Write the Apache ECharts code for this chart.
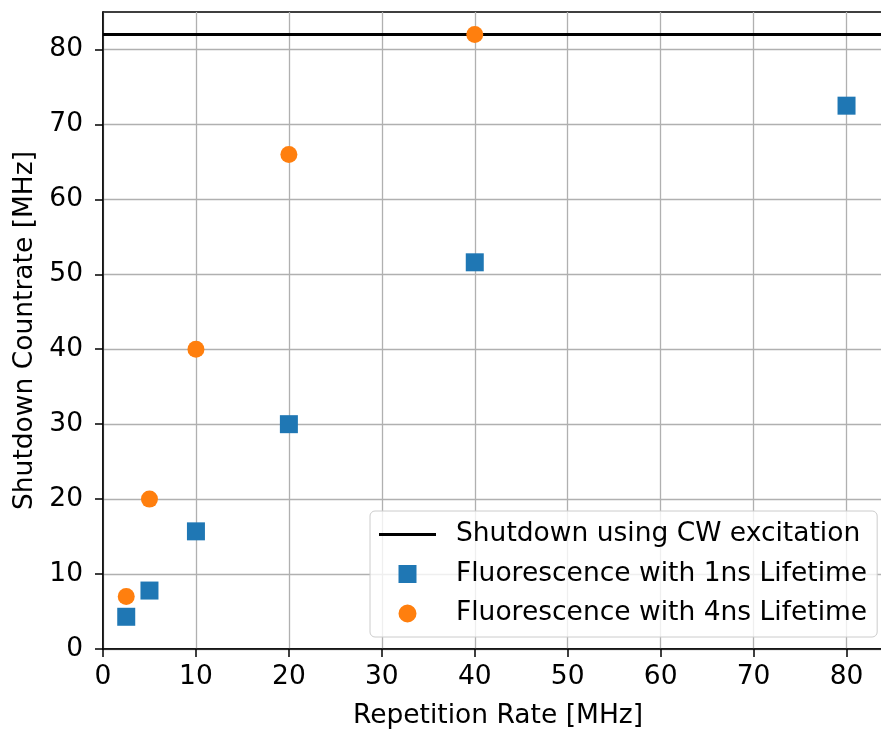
<!DOCTYPE html>
<html>
<head>
<meta charset="utf-8">
<script src="https://cdn.jsdelivr.net/npm/echarts@6/dist/echarts.min.js"></script>
<style>
  html, body { margin: 0; padding: 0; background: #fff; }
</style>
</head>
<body>
<div id="Echarts" style="width: 881px; height: 729px"></div>
<script>
// repetition rates (MHz)
var rates1ns = [2.5, 5, 10, 20, 40, 80]
var counts1ns = [4.3, 7.8, 15.7, 30.0, 51.6, 72.5]
var rates4ns = [2.5, 5, 10, 20, 40]
var counts4ns = [7.0, 20.0, 40.0, 66.0, 82.0]
var cwLevel = 82
var xTicks = [0, 10, 20, 30, 40, 50, 60, 70, 80]
var yTicks = [0, 10, 20, 30, 40, 50, 60, 70, 80]
var xMax = 85
var yMax = 85

var font = 'DejaVu Sans'
var fs = 26.5
var myChart = echarts.init(document.getElementById('Echarts'))

function pairs(xs, ys) {
  return xs.map(function (x, i) { return [x, ys[i]] })
}

var option = {
  animation: false,
  backgroundColor: '#fff',
  textStyle: { fontFamily: font },
  grid: {
    left: 103,
    top: 12,
    width: 790,
    bottom: 80,
    outerBoundsMode: 'none',
    containLabel: false,
    show: true,
    borderColor: '#000',
    borderWidth: 1.5,
    backgroundColor: 'transparent'
  },
  legend: {
    orient: 'vertical',
    left: 370,
    top: 511,
    selectedMode: false,
    itemWidth: 57,
    itemHeight: 18,
    itemGap: 12.5,
    padding: [10, 10, 10, 9],
    backgroundColor: 'rgba(255,255,255,0.8)',
    borderColor: '#cccccc',
    borderWidth: 1,
    borderRadius: 5,
    textStyle: { fontFamily: font, fontSize: fs, color: '#000', lineHeight: 24, padding: [0, 0, 0, 15] },
    data: [
      { name: 'Shutdown using CW excitation', icon: 'path://M0,0H57V3H0Z' },
      { name: 'Fluorescence with 1ns Lifetime', icon: 'path://M0,0H10V10H0Z' },
      { name: 'Fluorescence with 4ns Lifetime', icon: 'path://M5,0A5,5,0,1,1,4.99,0Z' }
    ]
  },
  xAxis: {
    type: 'value',
    min: 0,
    max: xMax,
    interval: 10,
    name: 'Repetition Rate [MHz]',
    nameLocation: 'middle',
    nameGap: 54,
    nameTextStyle: { fontFamily: font, fontSize: fs, color: '#000' },
    axisLine: { show: true, onZero: false, lineStyle: { color: '#000', width: 1.5 } },
    axisTick: { show: true, length: 8, lineStyle: { color: '#000', width: 1.5 }, customValues: xTicks },
    axisLabel: { fontFamily: font, fontSize: fs, color: '#000', margin: 15, customValues: xTicks },
    splitLine: { show: true, lineStyle: { color: '#b0b0b0', width: 1.3 } }
  },
  yAxis: {
    type: 'value',
    min: 0,
    max: yMax,
    interval: 10,
    name: 'Shutdown Countrate [MHz]',
    nameLocation: 'middle',
    nameGap: 62,
    nameTextStyle: { fontFamily: font, fontSize: fs, color: '#000' },
    axisLine: { show: true, onZero: false, lineStyle: { color: '#000', width: 1.5 } },
    axisTick: { show: true, length: 8, lineStyle: { color: '#000', width: 1.5 }, customValues: yTicks },
    axisLabel: { fontFamily: font, fontSize: fs, color: '#000', margin: 20, customValues: yTicks },
    splitLine: { show: true, lineStyle: { color: '#b0b0b0', width: 1.3 } }
  },
  series: [
    {
      name: 'Shutdown using CW excitation',
      type: 'line',
      symbol: 'none',
      color: '#000',
      lineStyle: { color: '#000', width: 3 },
      data: [[0, cwLevel], [xMax, cwLevel]],
      z: 3
    },
    {
      name: 'Fluorescence with 1ns Lifetime',
      type: 'scatter',
      symbol: 'rect',
      symbolSize: 18,
      color: '#1f77b4',
      itemStyle: { color: '#1f77b4', opacity: 1 },
      data: pairs(rates1ns, counts1ns),
      z: 4
    },
    {
      name: 'Fluorescence with 4ns Lifetime',
      type: 'scatter',
      symbol: 'circle',
      symbolSize: 17,
      color: '#ff7f0e',
      itemStyle: { color: '#ff7f0e', opacity: 1 },
      data: pairs(rates4ns, counts4ns),
      z: 4
    }
  ]
}

myChart.setOption(option)
</script>
</body>
</html>
